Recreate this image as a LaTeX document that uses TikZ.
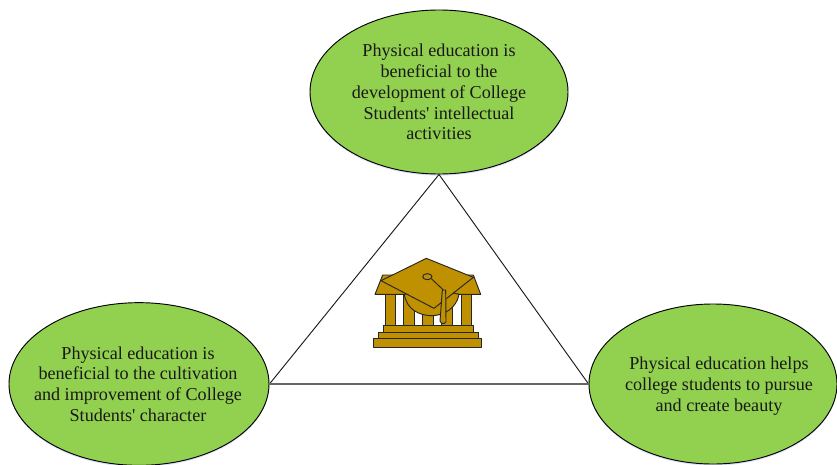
\documentclass[tikz,border=0pt]{standalone}
\usepackage{fontspec}
\setmainfont{Liberation Serif}[Ligatures=TeXOff]
\usetikzlibrary{shapes.geometric}
\definecolor{leaf}{HTML}{92D050}
\definecolor{gold}{HTML}{BF9000}
\definecolor{edge}{HTML}{1A1A1A}
\newcommand{\bubtext}[2][0pt]{\makebox[0pt][c]{\hspace*{#1}\smash{\raisebox{-5.25pt}{\begin{tabular}[c]{@{}c@{}}#2\end{tabular}}}}}
\tikzset{
  bubble/.style={ellipse,draw=black,line width=0.7pt,fill=leaf,inner sep=0pt,font=\fontsize{13.6}{15.6}\selectfont,text=black!90,
    preaction={fill=blue!12!white,draw=none,transform canvas={yshift=-1.2pt}}},
  link/.style={draw=edge,line width=0.7pt},
  baseline link/.style={draw=black!60,line width=1pt},
  icon/.style={draw=black!85,line width=0.7pt,fill=gold,line join=round}
}
\begin{document}
\begin{tikzpicture}[x=0.75pt,y=-0.75pt]
\useasboundingbox (0,0) rectangle (837,464);
\fill[white] (0,0) rectangle (837,464);
\node[bubble,minimum width=193.5pt,minimum height=123pt] (top) at (439,92) {\bubtext{Physical education is\\beneficial to the\\development of College\\Students' intellectual\\activities}};
\node[bubble,minimum width=195pt,minimum height=122pt] (left) at (139,384) {\bubtext[-1.5pt]{Physical education is\\beneficial to the cultivation\\and improvement of College\\Students' character}};
\node[bubble,minimum width=186pt,minimum height=120pt] (right) at (713,384) {\bubtext[9pt]{Physical education helps\\college students to pursue\\and create beauty}};
\draw[link] (left.east) -- (top.south) -- (right.west);
\draw[baseline link] (left.east) -- (right.west);
\begin{scope}[shift={(360,245)},x=0.25pt,y=-0.25pt]
  % building
  \draw[icon] (41,281) rectangle (365,306);
  \draw[icon] (54,262) rectangle (356,281);
  \draw[icon] (70,242) rectangle (340,262);
  \draw[icon] (75,148) rectangle (105,242);
  \draw[icon] (130,148) rectangle (163,242);
  \draw[icon] (188,190) rectangle (220,242);
  \draw[icon] (245,180) rectangle (278,242);
  \draw[icon] (303,148) rectangle (335,242);
  \draw[icon] (45,148) -- (68,90) -- (340,90) -- (362,148) -- cycle;
  % cap
  \draw[icon] (133,148) .. controls (140,195) and (180,212) .. (215,212) .. controls (250,212) and (290,190) .. (297,148) -- (222,130) -- cycle;
  \draw[icon] (199,40) -- (340,97) -- (222,190) -- (63,107) -- cycle;
  \draw[icon] (202,95) ellipse (14 and 9);
  \draw[draw=black!85,line width=0.7pt] (214,101) -- (250,135);
  \draw[icon] (247,135) -- (240,228) .. controls (244,238) and (254,238) .. (258,230) -- (257,135) -- cycle;
\end{scope}
\end{tikzpicture}
\end{document}
